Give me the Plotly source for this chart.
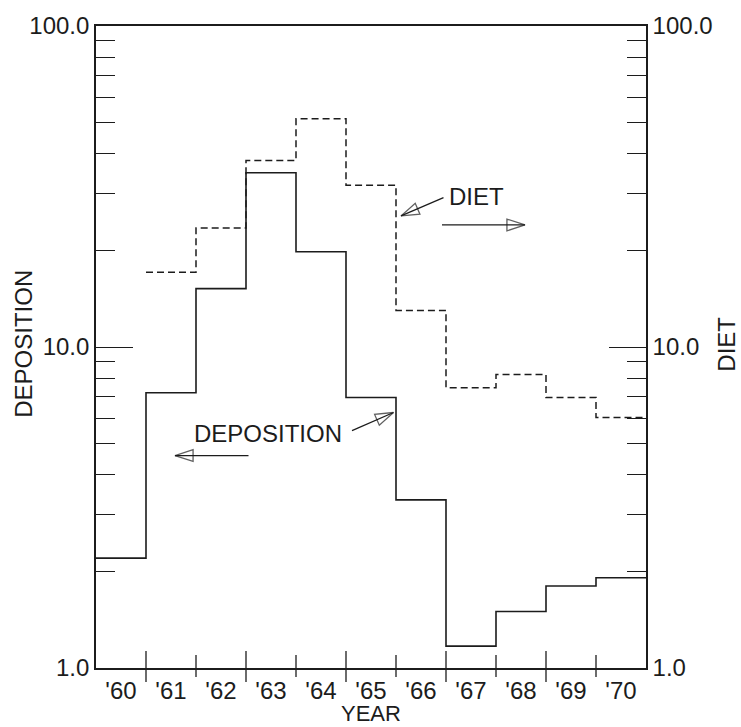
import numpy as np
import plotly.graph_objects as go

# ---- data ----
years = ["'60", "'61", "'62", "'63", "'64", "'65", "'66", "'67", "'68", "'69", "'70"]
deposition = [2.20, 7.2, 15.2, 34.9, 19.8, 6.96, 3.34, 1.17, 1.50, 1.80, 1.91]
diet = [None, 17.1, 23.5, 38.1, 51.4, 31.9, 13.0, 7.47, 8.21, 6.96, 6.03]
y_major = [1, 10, 100]
y_major_text = ["1.0", "10.0", "100.0"]
y_minor = [2, 3, 4, 5, 6, 7, 8, 9, 20, 30, 40, 50, 60, 70, 80, 90]

FONT = "Liberation Sans, Arial, Helvetica, sans-serif"
INK = "#1c1c1c"
FS = 24

n = len(years)
edges = np.arange(n + 1)
centers = edges[:-1] + 0.5


def step_xy(vals):
    xs, ys = [], []
    for i, v in enumerate(vals):
        if v is None:
            continue
        xs.append(edges[i])
        ys.append(v)
    xs.append(edges[-1])
    ys.append(ys[-1])
    return xs, ys


fig = go.Figure()

dx, dy = step_xy(deposition)
fig.add_trace(go.Scatter(x=dx, y=dy, mode="lines", line=dict(shape="hv", color=INK, width=1.6),
                         name="DEPOSITION", showlegend=False))
tx, ty = step_xy(diet)
fig.add_trace(go.Scatter(x=tx, y=ty, mode="lines", line=dict(shape="hv", color=INK, width=1.5, dash="7px,4px"),
                         name="DIET", showlegend=False))

# arrows (shaft + open head)
arrows = [
    ((6.95, 29.2), (6.10, 25.6)),
    ((6.92, 24.0), (8.58, 24.0)),
    ((5.12, 5.49), (5.95, 6.25)),
    ((3.05, 4.59), (1.58, 4.59)),
]
for (x0, y0), (x1, y1) in arrows:
    fig.add_trace(go.Scatter(
        x=[x0, x1], y=[y0, y1], mode="lines+markers",
        line=dict(color=INK, width=1.3),
        marker=dict(symbol=["circle", "arrow-open"], size=[0, 19], angleref="previous",
                    color=INK, line=dict(color=INK, width=1.3)),
        showlegend=False, hoverinfo="skip"))

# text labels
fig.add_annotation(x=7.02, y=np.log10(29.5), text="DIET", showarrow=False, xanchor="left",
                   font=dict(family=FONT, size=FS, color=INK))
fig.add_annotation(x=1.915, y=np.log10(5.37), text="DEPOSITION", showarrow=False, xanchor="left",
                   font=dict(family=FONT, size=FS, color=INK))

# axis titles
fig.add_annotation(xref="paper", yref="paper", x=-0.131, y=0.505, text="DEPOSITION", textangle=-90,
                   showarrow=False, xanchor="center", yanchor="middle",
                   font=dict(family=FONT, size=FS, color=INK))
fig.add_annotation(xref="paper", yref="paper", x=1.147, y=0.505, text="DIET", textangle=-90,
                   showarrow=False, xanchor="center", yanchor="middle",
                   font=dict(family=FONT, size=FS, color=INK))
fig.add_annotation(xref="paper", yref="paper", x=0.5, y=-0.0705, text="YEAR",
                   showarrow=False, xanchor="center", yanchor="middle",
                   font=dict(family=FONT, size=22, color=INK))

# x tick marks at year boundaries (alternating lengths)
for i in range(1, n):
    long = (i % 2 == 1)
    fig.add_shape(type="line", xref="x", yref="paper", x0=edges[i], x1=edges[i],
                  ysizemode="pixel", yanchor=0,
                  y0=-(14 if long else 9), y1=(17 if long else 13),
                  line=dict(color=INK, width=1.3))

axis_common = dict(type="log", range=[0, 2], tickvals=y_major, ticktext=y_major_text,
                   ticks="inside", ticklen=37, tickwidth=1.4, tickcolor=INK,
                   minor=dict(tickvals=y_minor, ticks="inside", ticklen=19, tickwidth=1.4,
                              tickcolor=INK, showgrid=False),
                   showgrid=False, zeroline=False, showline=True, linecolor=INK, linewidth=1.6,
                   tickfont=dict(family=FONT, size=FS, color=INK))

fig.update_layout(
    width=741, height=727,
    margin=dict(l=96, r=95, t=21, b=59),
    paper_bgcolor="white", plot_bgcolor="white",
    font=dict(family=FONT, color=INK),
    xaxis=dict(range=[0, n], tickvals=list(centers), ticktext=years, ticks="",
               showgrid=False, zeroline=False, showline=True, mirror=True,
               linecolor=INK, linewidth=1.6,
               tickfont=dict(family=FONT, size=FS, color=INK)),
    yaxis=dict(**axis_common, side="left"),
    yaxis2=dict(**axis_common, side="right", overlaying="y"),
)
# invisible trace to activate yaxis2
fig.add_trace(go.Scatter(x=[0], y=[1], yaxis="y2", mode="markers", marker=dict(opacity=0),
                         showlegend=False, hoverinfo="skip"))

fig.write_html("out.html")
